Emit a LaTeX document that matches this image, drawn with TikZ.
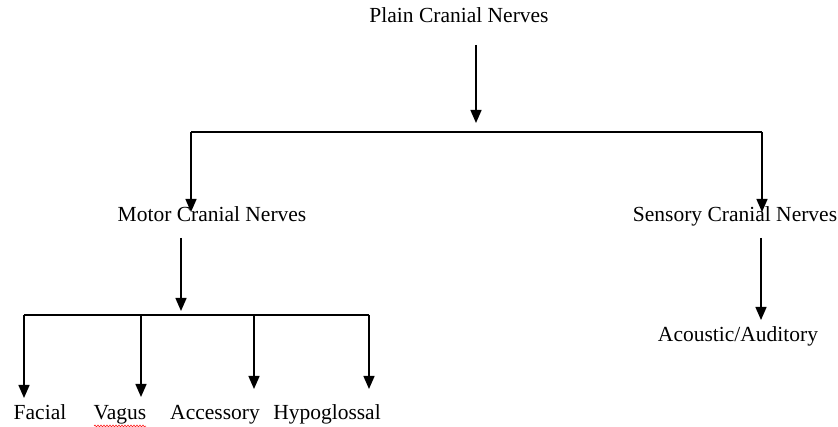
\documentclass[tikz,border=0pt]{standalone}
\usepackage{fontspec}
\setmainfont{Liberation Serif}
\usetikzlibrary{
    arrows.meta,
    decorations.pathmorphing
}

\begin{document}
\begin{tikzpicture}[x=1pt, y=-1pt, thick, font=\fontsize{21.5}{25}\selectfont,
    every node/.style={inner sep=0pt, anchor=base},
    line/.style={line width=1.4pt},
    link/.style={line, -{Triangle[width=11pt,length=13pt]}}]
            \useasboundingbox (0,0) rectangle (838,427);
            \node (P) at (459,23) {Plain Cranial Nerves};
            \node (M) at (212,222) {Motor Cranial Nerves};
            \node (S) at (735,222) {Sensory Cranial Nerves};
            \node (Au) at (738,342) {Acoustic/Auditory};
            \node (F) at (40,420) {Facial};
            \node (V) at (120,420) {Vagus};
            \node (Ac) at (215,420) {Accessory};
            \node (H) at (327,420) {Hypoglossal};
            \coordinate (P1) at (476,45);
            \coordinate (T) at (476,132);
            \coordinate (TL) at (191,132);
            \coordinate (TR) at (762,132);
            \coordinate (M1) at (181,238);
            \coordinate (B) at (181,315);
            \coordinate (BL) at (24,315);
            \coordinate (BR) at (369,315);
            \draw[link] (P1) -- (476,123);
            \draw[line] (TL) -- (TR);
            \draw[link] (TL) -- (TL |- 0,212);
            \draw[link] (TR) -- (TR |- 0,212);
            \draw[link] (M1) -- (181,311);
            \draw[line] (BL) -- (BR);
            \draw[link] (BL) -- (BL |- 0,398);
            \draw[link] (141,315) -- (141,397);
            \draw[link] (254,315) -- (254,389);
            \draw[link] (BR) -- (BR |- 0,389);
            \draw[link] (761,238) -- (761,320);
            \draw[red, line width=0.5pt, decorate, decoration={snake, amplitude=1pt, segment length=3pt}]
                (94,426) -- (146,426);
        \end{tikzpicture}
\end{document}
